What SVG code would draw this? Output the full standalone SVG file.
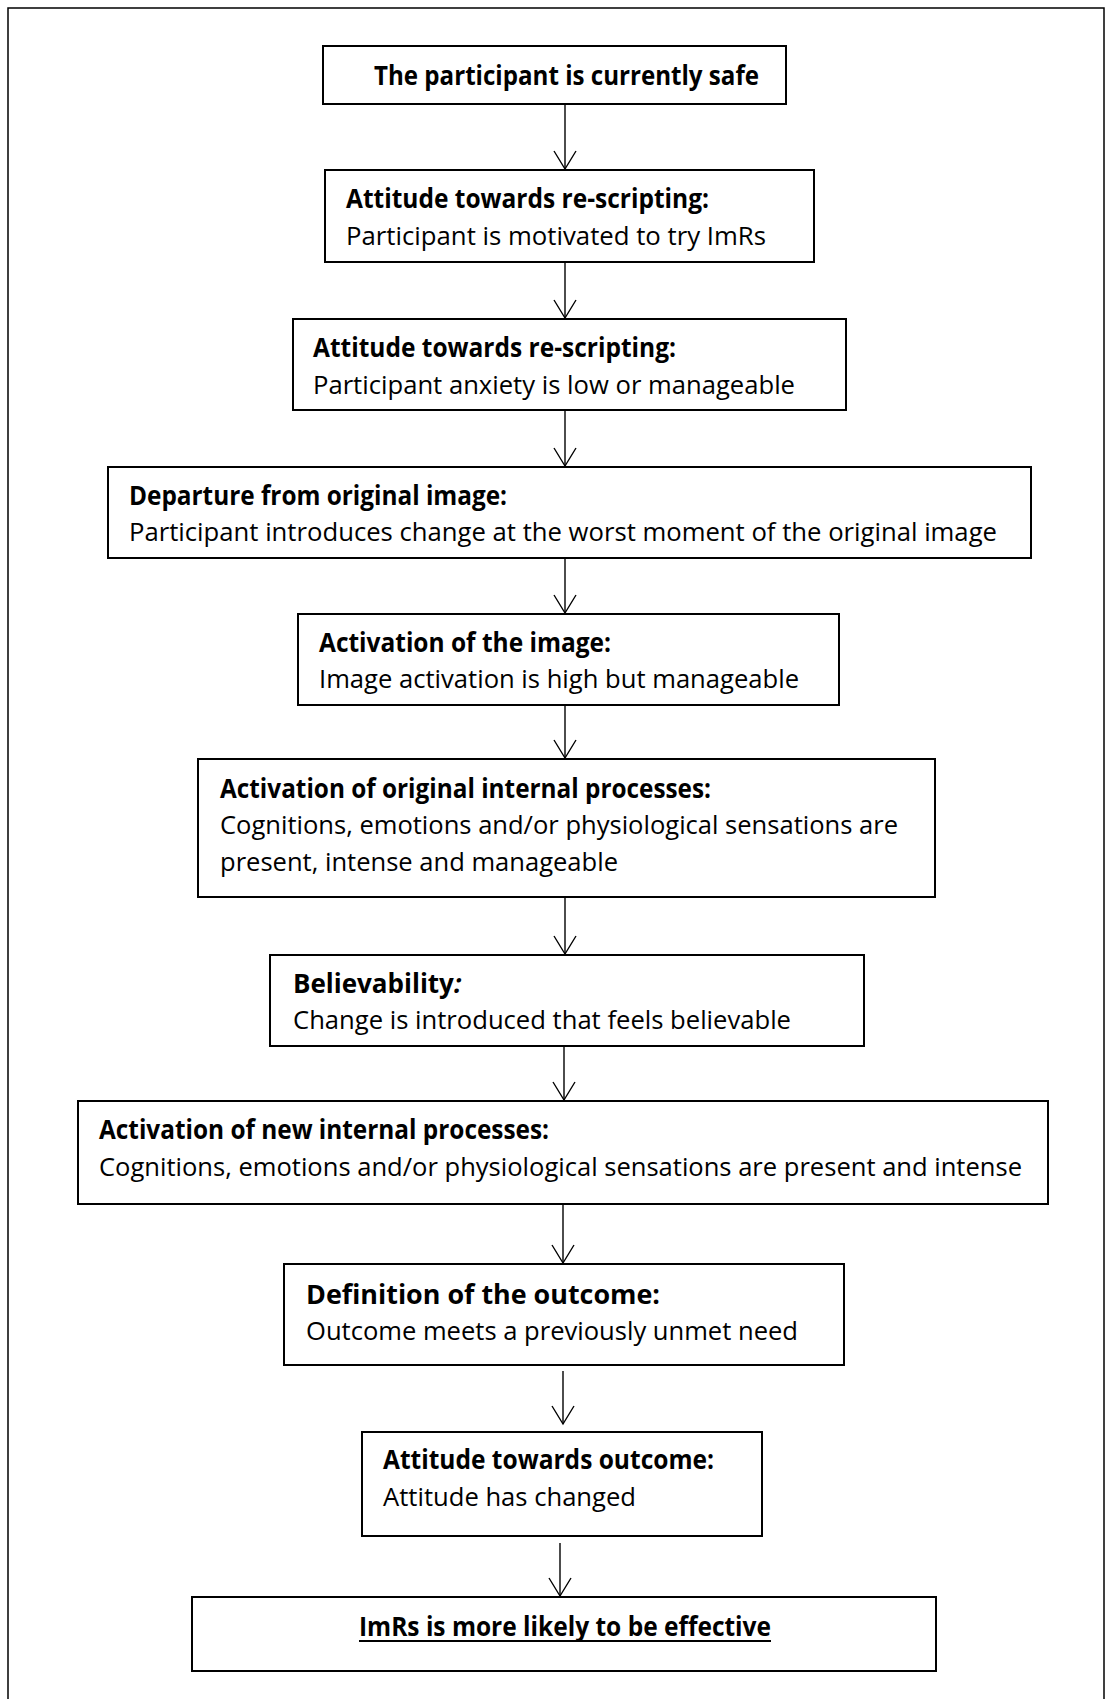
<svg xmlns="http://www.w3.org/2000/svg" width="1113" height="1699" viewBox="0 0 1113 1699">
<defs>
<style>
.bg{fill:#fff}
.frame{fill:none;stroke:#000;stroke-width:1.5}
.box{fill:#fff;stroke:#000;stroke-width:2}
.t{font-family:"Open Sans","Liberation Sans",sans-serif;font-size:26px;fill:#000}
.b{font-weight:bold}
.conn{fill:none;stroke:#000;stroke-width:1.4}
</style>
<marker id="ah" markerUnits="userSpaceOnUse" orient="auto" refX="0" refY="0" markerWidth="24" markerHeight="24" overflow="visible">
<path d="M-18,-11 L0,0 L-18,11" fill="none" stroke="#000" stroke-width="1.4"/>
</marker>
</defs>
<rect class="bg" x="0" y="0" width="1113" height="1699"/>
<rect class="frame" x="8" y="8" width="1096" height="1720"/>

<g id="connectors">
<line class="conn" x1="565" y1="105" x2="565" y2="169" marker-end="url(#ah)"/>
<line class="conn" x1="565" y1="263" x2="565" y2="318" marker-end="url(#ah)"/>
<line class="conn" x1="565" y1="411" x2="565" y2="466" marker-end="url(#ah)"/>
<line class="conn" x1="565" y1="559" x2="565" y2="613" marker-end="url(#ah)"/>
<line class="conn" x1="565" y1="706" x2="565" y2="758" marker-end="url(#ah)"/>
<line class="conn" x1="565" y1="898" x2="565" y2="954" marker-end="url(#ah)"/>
<line class="conn" x1="564" y1="1047" x2="564" y2="1100" marker-end="url(#ah)"/>
<line class="conn" x1="563" y1="1205" x2="563" y2="1263" marker-end="url(#ah)"/>
<line class="conn" x1="563" y1="1371" x2="563" y2="1424" marker-end="url(#ah)"/>
<line class="conn" x1="560" y1="1543" x2="560" y2="1596" marker-end="url(#ah)"/>
</g>

<g id="n1">
<rect class="box" x="323" y="46" width="463" height="58"/>
<text class="t b" x="374" y="85" textLength="385" lengthAdjust="spacingAndGlyphs">The participant is currently safe</text>
</g>
<g id="n2">
<rect class="box" x="325" y="170" width="489" height="92"/>
<text class="t b" x="346" y="208" textLength="363" lengthAdjust="spacingAndGlyphs">Attitude towards re-scripting:</text>
<text class="t" x="346" y="245" textLength="420" lengthAdjust="spacingAndGlyphs">Participant is motivated to try ImRs</text>
</g>
<g id="n3">
<rect class="box" x="293" y="319" width="553" height="91"/>
<text class="t b" x="313" y="357" textLength="363" lengthAdjust="spacingAndGlyphs">Attitude towards re-scripting:</text>
<text class="t" x="313" y="394" textLength="482" lengthAdjust="spacingAndGlyphs">Participant anxiety is low or manageable</text>
</g>
<g id="n4">
<rect class="box" x="108" y="467" width="923" height="91"/>
<text class="t b" x="129" y="505" textLength="378" lengthAdjust="spacingAndGlyphs">Departure from original image:</text>
<text class="t" x="129" y="541" textLength="868" lengthAdjust="spacingAndGlyphs">Participant introduces change at the worst moment of the original image</text>
</g>
<g id="n5">
<rect class="box" x="298" y="614" width="541" height="91"/>
<text class="t b" x="319" y="652" textLength="292" lengthAdjust="spacingAndGlyphs">Activation of the image:</text>
<text class="t" x="319" y="688" textLength="480" lengthAdjust="spacingAndGlyphs">Image activation is high but manageable</text>
</g>
<g id="n6">
<rect class="box" x="198" y="759" width="737" height="138"/>
<text class="t b" x="220" y="798" textLength="491" lengthAdjust="spacingAndGlyphs">Activation of original internal processes:</text>
<text class="t" x="220" y="834" textLength="678" lengthAdjust="spacingAndGlyphs">Cognitions, emotions and/or physiological sensations are</text>
<text class="t" x="220" y="871" textLength="398" lengthAdjust="spacingAndGlyphs">present, intense and manageable</text>
</g>
<g id="n7">
<rect class="box" x="270" y="955" width="594" height="91"/>
<text class="t b" x="293" y="993" font-style="normal">Believability<tspan font-style="italic">:</tspan></text>
<text class="t" x="293" y="1029" textLength="498" lengthAdjust="spacingAndGlyphs">Change is introduced that feels believable</text>
</g>
<g id="n8">
<rect class="box" x="78" y="1101" width="970" height="103"/>
<text class="t b" x="99" y="1139" textLength="450" lengthAdjust="spacingAndGlyphs">Activation of new internal processes:</text>
<text class="t" x="99" y="1176" textLength="923" lengthAdjust="spacingAndGlyphs">Cognitions, emotions and/or physiological sensations are present and intense</text>
</g>
<g id="n9">
<rect class="box" x="284" y="1264" width="560" height="101"/>
<text class="t b" x="306" y="1304" textLength="354" lengthAdjust="spacingAndGlyphs">Definition of the outcome:</text>
<text class="t" x="306" y="1340" textLength="492" lengthAdjust="spacingAndGlyphs">Outcome meets a previously unmet need</text>
</g>
<g id="n10">
<rect class="box" x="362" y="1432" width="400" height="104"/>
<text class="t b" x="383" y="1469" textLength="331" lengthAdjust="spacingAndGlyphs">Attitude towards outcome:</text>
<text class="t" x="383" y="1506" textLength="253" lengthAdjust="spacingAndGlyphs">Attitude has changed</text>
</g>
<g id="n11">
<rect class="box" x="192" y="1597" width="744" height="74"/>
<text class="t b" x="359" y="1636" textLength="412" lengthAdjust="spacingAndGlyphs">ImRs is more likely to be effective</text>
<line x1="359" y1="1641" x2="771" y2="1641" stroke="#000" stroke-width="2"/>
</g>
</svg>
